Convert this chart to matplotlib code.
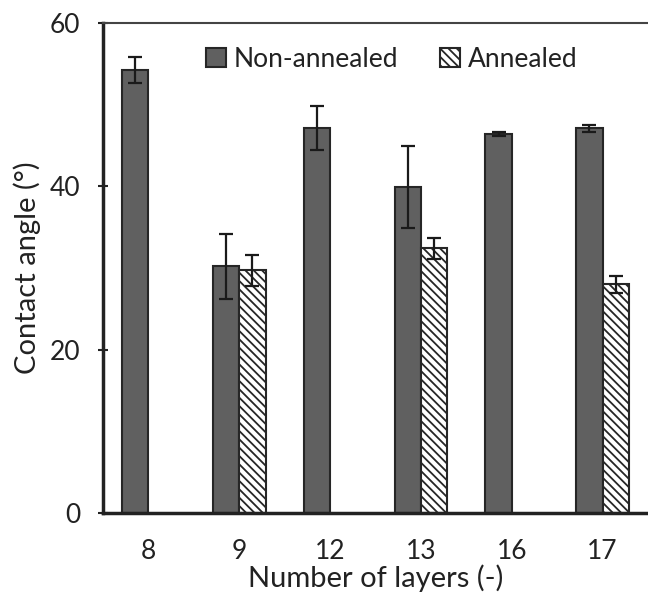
import numpy as np
import matplotlib
matplotlib.use("Agg")
import matplotlib.pyplot as plt

categories = ["8", "9", "12", "13", "16", "17"]
non_annealed = [54.2, 30.2, 47.1, 39.9, 46.4, 47.1]
non_annealed_err = [1.6, 4.0, 2.7, 5.0, 0.2, 0.4]
annealed = [np.nan, 29.7, np.nan, 32.4, np.nan, 28.0]
annealed_err = [np.nan, 1.9, np.nan, 1.3, np.nan, 1.0]
yticks = [0, 20, 40, 60]

plt.rcParams['font.family'] = ['Lato', 'DejaVu Sans']
plt.rcParams['hatch.linewidth'] = 1.3
plt.rcParams['hatch.color'] = '#111111'

fig = plt.figure(figsize=(6.48, 5.97), dpi=100)
ax = fig.add_axes([103/648, 1 - 513/597, 1 - 103/648, (513 - 23)/597])

x = np.arange(len(categories))
w = 0.29
edge = '#262626'
ax.bar(x - w/2, non_annealed, w, color='#606060', edgecolor=edge, linewidth=1.5,
       label='Non-annealed', zorder=2)
ax.bar(x + w/2, annealed, w, color='white', edgecolor=edge, linewidth=1.5,
       hatch='\\\\\\\\', label='Annealed', zorder=2)
ax.errorbar(x - w/2, non_annealed, yerr=non_annealed_err, fmt='none', ecolor='#1a1a1a',
            elinewidth=1.6, capsize=5, capthick=1.6, zorder=3)
ax.errorbar(x + w/2, annealed, yerr=annealed_err, fmt='none', ecolor='#1a1a1a',
            elinewidth=1.6, capsize=5, capthick=1.6, zorder=3)

ax.set_xlim(-0.5, len(categories) - 0.5)
ax.set_ylim(0, 60)
ax.set_yticks(yticks)
ax.set_xticks(x)
ax.set_xticklabels(categories)
ax.tick_params(axis='y', direction='inout', length=7, width=1.5, labelsize=19,
               colors='#222222', pad=13)
ax.tick_params(axis='x', length=0, labelsize=19, colors='#222222', pad=19)

for s in ['left', 'bottom']:
    ax.spines[s].set_linewidth(2.5)
    ax.spines[s].set_color('#222222')
ax.spines['top'].set_linewidth(1.5)
ax.spines['top'].set_color('#444444')
ax.spines['right'].set_visible(False)

ax.set_xlabel('Number of layers (-)', fontsize=21, color='#222222', labelpad=0)
ax.set_ylabel('Contact angle (°)', fontsize=21, color='#222222', labelpad=6)

leg = ax.legend(loc='upper center', bbox_to_anchor=(0.53, 1.0), ncol=2, frameon=False,
                fontsize=19, handlelength=0.75, handleheight=0.75, handletextpad=0.3,
                columnspacing=1.6, labelcolor='#222222')

fig.savefig('out.png', dpi=100)
